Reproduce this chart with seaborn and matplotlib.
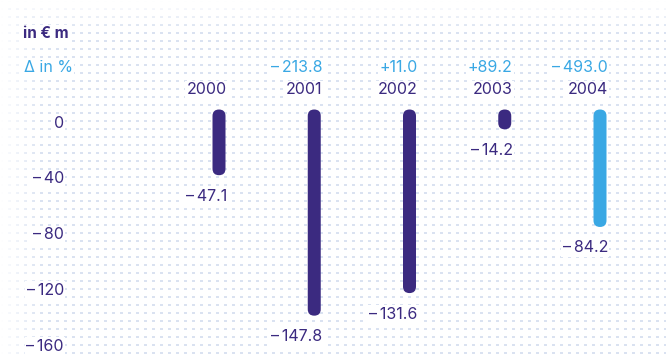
import numpy as np
import matplotlib
matplotlib.use("Agg")
import matplotlib.pyplot as plt
import seaborn as sns
from matplotlib.patches import FancyBboxPatch
from matplotlib.transforms import ScaledTranslation

# data
years = ["2000", "2001", "2002", "2003", "2004"]
values = [-47.1, -147.8, -131.6, -14.2, -84.2]
delta_pct = [None, -213.8, 11.0, 89.2, -493.0]
y_ticks = [0, -40, -80, -120, -160]

PURPLE = "#3b2a80"
BLUE = "#3aa8e4"
bar_colors = [PURPLE, PURPLE, PURPLE, PURPLE, BLUE]


def fmt(v, sign=False):
    """Format a number with an en dash for negatives"""
    s = f"{abs(v):.1f}" if v != int(v) or sign else f"{abs(v):.0f}"
    if v < 0:
        return "\u2013\u2009" + s
    return "+" + s if sign else s


sns.set_theme(style="white")
plt.rcParams["font.family"] = ["Inter", "DejaVu Sans"]

W, H = 666, 357
FS = 11.5
fig = plt.figure(figsize=(W / 100, H / 100), dpi=100)
fig.patch.set_facecolor("white")

# dotted background texture
bg = fig.add_axes([0, 0, 1, 1], zorder=0)
yy, xx = np.mgrid[0:H, 0:W]
dots = ((xx % 8) < 3) & ((yy % 8) < 2)
fade = np.clip(np.minimum(xx / 40, yy / 30), 0, 1)
strength = dots * fade * 0.65
shade = np.array([0.78, 0.83, 0.92])
img = 1 - strength[..., None] * (1 - shade)
bg.imshow(img, aspect="auto", interpolation="nearest")
bg.axis("off")

# main axes; pixel geometry: bar 0 at x=219, step 95.25 px; y=0 at 109.5 px
px_x = 95.25
px_y = 1.395
left_px = 75
ax = fig.add_axes([left_px / W, 0, 1 - left_px / W, 1], zorder=1)
ax.set_facecolor("none")

bar_w = 13 / px_x
sns.barplot(x=years, y=values, hue=years, palette=bar_colors, width=bar_w,
            errorbar=None, legend=False, ax=ax, saturation=1)

ax.set_xlim((left_px - 219) / px_x, (W - 219) / px_x)
ax.set_ylim(-(H - 109.5) / px_y, 109.5 / px_y)

# turn the bars into rounded pills
aspect = px_x / px_y
for p in list(ax.patches):
    x0, y0 = p.get_x(), p.get_y()
    w, h = p.get_width(), p.get_height()
    fc = p.get_facecolor()
    p.remove()
    pill = FancyBboxPatch((x0, min(y0, y0 + h)), w, abs(h),
                          boxstyle=f"round,pad=0,rounding_size={w / 2}",
                          mutation_aspect=aspect, fc=fc, ec="none", zorder=3)
    ax.add_patch(pill)

for s in ax.spines.values():
    s.set_visible(False)
ax.grid(False)
ax.set_xticks([])
ax.set_xlabel("")
ax.set_ylabel("")

# y tick labels, shifted down a bit like the reference
ax.set_yticks(y_ticks)
ax.set_yticklabels([fmt(v) for v in y_ticks])
ax.tick_params(axis="y", length=0, pad=8, labelsize=FS, labelcolor=PURPLE)
shift = ScaledTranslation(0, -12 / 100, fig.dpi_scale_trans)
for lab in ax.get_yticklabels():
    lab.set_transform(lab.get_transform() + shift)
    lab.set_bbox(dict(facecolor="white", edgecolor="none", pad=1))

box = dict(facecolor="white", edgecolor="none", pad=1)
pt = 72 / 100  # points per pixel

for i, (yr, v, d) in enumerate(zip(years, values, delta_pct)):
    xr = i + bar_w / 2
    ax.annotate(yr, xy=(xr, 0), xytext=(1, 19.5 * pt), textcoords="offset points",
                ha="right", va="center", fontsize=FS, color=PURPLE, bbox=box)
    if d is not None:
        ax.annotate(fmt(d, sign=True), xy=(xr, 0), xytext=(1, 42.5 * pt),
                    textcoords="offset points", ha="right", va="center",
                    fontsize=FS, color=BLUE, bbox=box)
    ax.annotate(fmt(v), xy=(xr, v), xytext=(1, -21 * pt), textcoords="offset points",
                ha="right", va="center", fontsize=FS, color=PURPLE, bbox=box)

fig.text(23 / W, 1 - 34 / H, "in \u20ac m", ha="left", va="center", fontsize=11,
         fontweight="bold", color=PURPLE, bbox=box)
fig.text(24 / W, 1 - 68 / H, "\u0394 in %", ha="left", va="center", fontsize=FS,
         color=BLUE, bbox=box)

fig.savefig("out.png", dpi=100)
